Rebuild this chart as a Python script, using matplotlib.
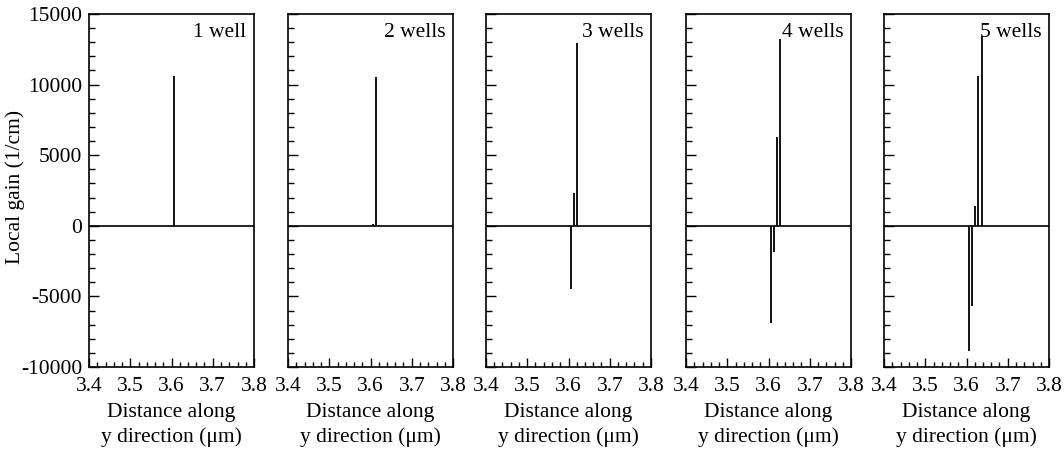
import matplotlib
matplotlib.use("Agg")
import matplotlib.pyplot as plt
from matplotlib.ticker import MultipleLocator

# Local gain profiles along y for 1..5 quantum wells
panel_titles = ["1 well", "2 wells", "3 wells", "4 wells", "5 wells"]
positions = [
    [3.606],
    [3.606, 3.614],
    [3.605, 3.613, 3.621],
    [3.605, 3.613, 3.621, 3.629],
    [3.605, 3.613, 3.621, 3.629, 3.637],
]
gains = [
    [10600],
    [150, 10570],
    [-4500, 2350, 12930],
    [-6900, -1860, 6320, 13210],
    [-8900, -5710, 1370, 10590, 13450],
]
x_range = (3.4, 3.8)
y_range = (-10000, 15000)
x_ticks = [3.4, 3.5, 3.6, 3.7, 3.8]
y_ticks = [-10000, -5000, 0, 5000, 10000, 15000]

plt.rcParams["font.family"] = ["Liberation Serif", "DejaVu Serif"]
plt.rcParams["font.size"] = 15.5
plt.rcParams["axes.unicode_minus"] = False

fig = plt.figure(figsize=(10.64, 4.55), dpi=100)
W, H = 1064, 455
lefts = [89, 288, 486, 686, 884]
pw = 165
top, bottom = 14, 367

for i, (title, xs, gs) in enumerate(zip(panel_titles, positions, gains)):
    ax = fig.add_axes([lefts[i] / W, 1 - bottom / H, pw / W, (bottom - top) / H])
    ax.axhline(0, color="black", lw=1.2)
    ax.vlines(xs, 0, gs, color="black", lw=1.3)
    ax.set_xlim(*x_range)
    ax.set_ylim(*y_range)
    ax.set_xticks(x_ticks)
    ax.set_xticklabels([f"{t:.1f}" for t in x_ticks])
    ax.xaxis.set_minor_locator(MultipleLocator(0.02))
    ax.set_yticks(y_ticks)
    ax.yaxis.set_minor_locator(MultipleLocator(1000))
    ax.tick_params(axis="both", which="both", direction="in", top=False, right=False,
                   width=1.0, color="black")
    ax.tick_params(axis="y", which="major", length=7.5, pad=5)
    ax.tick_params(axis="y", which="minor", length=4.5)
    ax.tick_params(axis="x", which="major", length=6.5, pad=7)
    ax.tick_params(axis="x", which="minor", length=3.5)
    if i > 0:
        ax.set_yticklabels([])
    else:
        ax.set_ylabel("Local gain (1/cm)")
        ax.yaxis.set_label_coords(-0.385, 0.51)
    for sp in ax.spines.values():
        sp.set_linewidth(1.2)
        sp.set_color("black")
    ax.set_xlabel("Distance along\ny direction (\u03bcm)", linespacing=1.4, labelpad=5)
    ax.text(0.955, 0.975, title, transform=ax.transAxes, ha="right", va="top")

fig.savefig("out.png", dpi=100)
